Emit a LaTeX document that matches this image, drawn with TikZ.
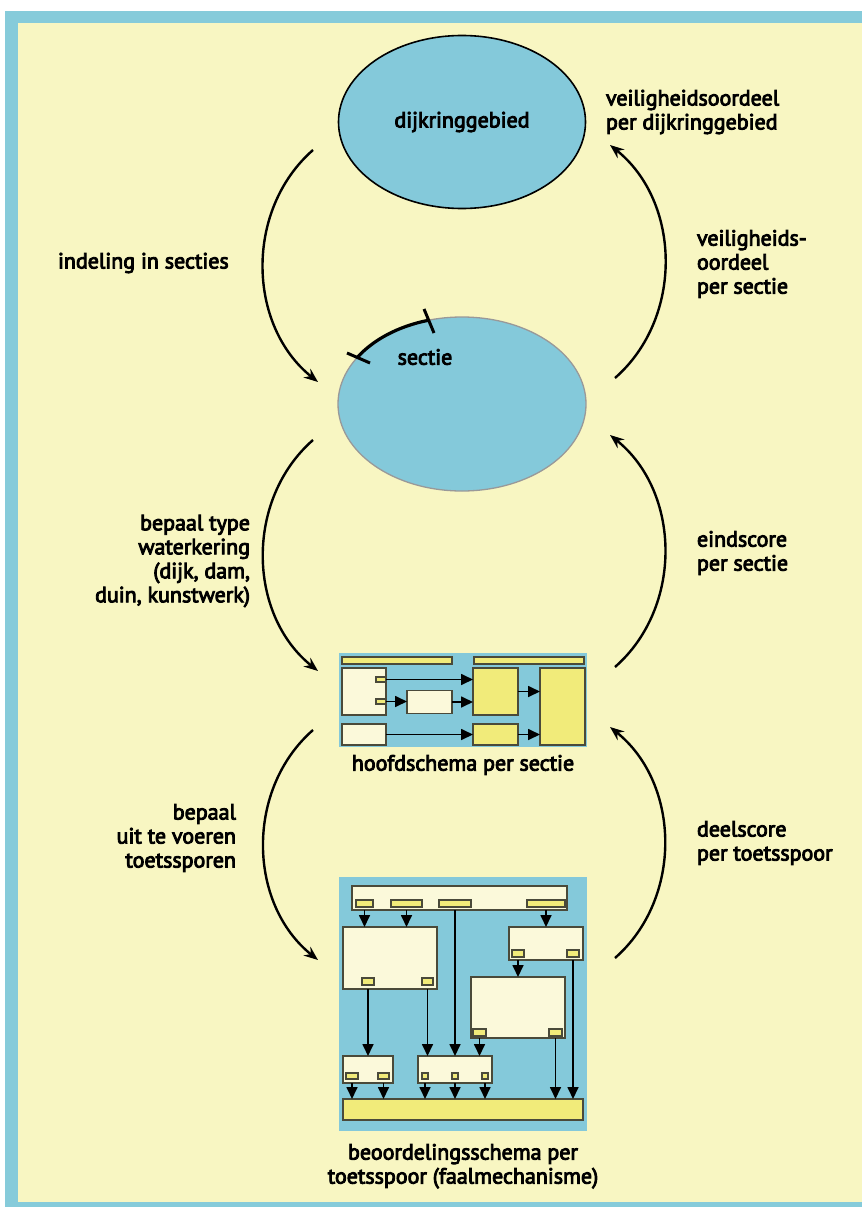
\documentclass[tikz,border=0pt]{standalone}
\usepackage{fontspec}
\setmainfont{PT Sans}
\newfontfamily\dijkfont{PT Sans}[FakeBold=4]
\usepackage{tikz}
\usetikzlibrary{positioning,shapes.geometric,arrows.meta,calc}

\definecolor{frameblue}{HTML}{86CBDA}
\definecolor{paper}{HTML}{F8F6C2}
\definecolor{water}{HTML}{84C9DA}
\definecolor{cream}{HTML}{FBF9DA}
\definecolor{sand}{HTML}{F1EB7A}
\definecolor{rim}{HTML}{4A4A3A}

\begin{document}
\begin{tikzpicture}[x=1pt,y=-1pt,node distance=5pt,every node/.style={outer sep=0pt}]
\tikzset{cyc/.style={-{Stealth[length=14pt,width=11pt]},line width=2.4pt},
  txt/.style={font=\dijkfont\fontsize{22}{24}\selectfont,inner sep=0pt},
  panel/.style={fill=water,inner sep=0pt},
  cbox/.style={draw=rim,fill=cream,line width=1.1pt,inner sep=0pt},
  ybox/.style={draw=rim,fill=sand,line width=1.1pt,inner sep=0pt},
  sarrow/.style={-{Triangle[length=12pt,width=11pt]},line width=1.7pt}}

\useasboundingbox (0,0) rectangle (862,1207);
\fill[white] (0,0) rectangle (862,1207);
\fill[frameblue] (5,11) rectangle (862,1207);
\fill[paper] (18,23) rectangle (862,1202);

% dijkringgebied en sectie
\node(DK) [ellipse,draw=black,line width=1.6pt,fill=water,minimum width=247pt,minimum height=173pt,txt] at (462,122) {dijkringgebied};
\node(SC) [ellipse,draw=black!40,line width=1.3pt,fill=water,minimum width=248pt,minimum height=174pt,inner sep=0pt] at (462,404) {};
\node(SCT) [txt] at (425,357) {sectie};
\draw[line width=3.2pt] ([shift={(-34.2,-83.6)}]SC.center) arc[start angle=-106,end angle=-148,x radius=124,y radius=87];
\draw[line width=3pt] ([shift={(-115,-51)}]SC.center) -- ([shift={(-92,-41)}]SC.center);
\draw[line width=3pt] ([shift={(-38,-95)}]SC.center) -- ([shift={(-28,-71)}]SC.center);

% hoofdschema
\node(HSP) [panel,minimum width=248pt,minimum height=94pt] at (463,700) {};
\node(HSB1) [ybox,minimum width=110pt,minimum height=7pt] at (397,660.5) {};
\node(HSB2) [ybox,minimum width=110pt,minimum height=7pt] at (529,660.5) {};
\node(HSA) [cbox,minimum width=44pt,minimum height=47pt] at (364,691.5) {};
\node(HSA1) [ybox,minimum width=10pt,minimum height=5pt] at (381,679.5) {};
\node(HSA2) [ybox,minimum width=10pt,minimum height=5pt] at (381,701.5) {};
\node(HSB) [cbox,minimum width=45pt,minimum height=23pt] at (429.5,702) {};
\node(HSC) [cbox,minimum width=44pt,minimum height=21pt] at (364,734.5) {};
\node(HSD) [ybox,minimum width=45pt,minimum height=47pt] at (495.5,691.5) {};
\node(HSE) [ybox,minimum width=45pt,minimum height=21pt] at (495.5,734.5) {};
\node(HSF) [ybox,minimum width=45pt,minimum height=77pt] at (562.5,706.5) {};
\draw[sarrow] (HSA1.east) -- (HSA1 -| HSD.west);
\draw[sarrow] (HSA2.east) -- (HSA2 -| HSB.west);
\draw[sarrow] (HSB.east) -- (HSB -| HSD.west);
\draw[sarrow] (HSC.east) -- (HSE.west);
\draw[sarrow] (HSD.east) -- (HSD -| HSF.west);
\draw[sarrow] (HSE.east) -- (HSE -| HSF.west);
\node(HSL) [txt,below=8pt of HSP] {hoofdschema per sectie};

% beoordelingsschema
\node(BSP) [panel,minimum width=248pt,minimum height=254pt] at (463,1004) {};
\node(BT) [cbox,minimum width=215pt,minimum height=24pt] at (459.5,898) {};
\node(BT1) [ybox,minimum width=17pt,minimum height=7pt] at (364.5,903.5) {};
\node(BT2) [ybox,minimum width=31pt,minimum height=7pt] at (406.5,903.5) {};
\node(BT3) [ybox,minimum width=32pt,minimum height=7pt] at (455,903.5) {};
\node(BT4) [ybox,minimum width=38pt,minimum height=7pt] at (546,903.5) {};
\node(BL) [cbox,minimum width=94pt,minimum height=62pt] at (390,958) {};
\node(BL1) [ybox,minimum width=12pt,minimum height=7pt] at (368,981.5) {};
\node(BL2) [ybox,minimum width=11pt,minimum height=7pt] at (427.5,981.5) {};
\node(BR) [cbox,minimum width=74pt,minimum height=33pt] at (546,943.5) {};
\node(BR1) [ybox,minimum width=12pt,minimum height=7pt] at (518,953.5) {};
\node(BR2) [ybox,minimum width=12pt,minimum height=7pt] at (573,953.5) {};
\node(BQ) [cbox,minimum width=94pt,minimum height=61pt] at (518,1007.5) {};
\node(BQ1) [ybox,minimum width=13pt,minimum height=7pt] at (479.5,1032.5) {};
\node(BQ2) [ybox,minimum width=13pt,minimum height=7pt] at (555.5,1032.5) {};
\node(BM) [cbox,minimum width=50pt,minimum height=27pt] at (368,1069.5) {};
\node(BM1) [ybox,minimum width=12pt,minimum height=6pt] at (352,1076) {};
\node(BM2) [ybox,minimum width=11pt,minimum height=6pt] at (383.5,1076) {};
\node(BN) [cbox,minimum width=74pt,minimum height=27pt] at (455,1069.5) {};
\node(BN1) [ybox,minimum width=6pt,minimum height=6pt] at (425,1076) {};
\node(BN2) [ybox,minimum width=6pt,minimum height=6pt] at (455,1076) {};
\node(BN3) [ybox,minimum width=6pt,minimum height=6pt] at (485,1076) {};
\node(BZ) [ybox,minimum width=240pt,minimum height=21pt] at (463,1109.5) {};
\draw[sarrow] (BT1 |- BT.south) -- (BT1 |- BL.north);
\draw[sarrow] (BT2 |- BT.south) -- (BT2 |- BL.north);
\draw[sarrow] (BT4 |- BT.south) -- (BT4 |- BR.north);
\draw[sarrow] (BT3 |- BT.south) -- (BT3 |- BN.north);
\draw[sarrow] (BR1 |- BR.south) -- (BR1 |- BQ.north);
\draw[sarrow] (BR2 |- BR.south) -- (BR2 |- BZ.north);
\draw[sarrow] (BL1 |- BL.south) -- (BL1 |- BM.north);
\draw[sarrow] (BL2 |- BL.south) -- (BL2 |- BN.north);
\draw[sarrow] (BQ1 |- BQ.south) -- (BQ1 |- BN.north);
\draw[sarrow] (BQ2 |- BQ.south) -- (BQ2 |- BZ.north);
\draw[sarrow] (BM1 |- BM.south) -- (BM1 |- BZ.north);
\draw[sarrow] (BM2 |- BM.south) -- (BM2 |- BZ.north);
\draw[sarrow] (BN1 |- BN.south) -- (BN1 |- BZ.north);
\draw[sarrow] (BN2 |- BN.south) -- (BN2 |- BZ.north);
\draw[sarrow] (BN3 |- BN.south) -- (BN3 |- BZ.north);
\node(BSL) [txt,align=center,below=13pt of BSP] {beoordelingsschema per\\toetsspoor (faalmechanisme)};

% kringloop
\coordinate(L1s) at (313,150); \coordinate(L1e) at (318,382);
\coordinate(L2s) at (313,440); \coordinate(L2e) at (318,671);
\coordinate(L3s) at (313,730); \coordinate(L3e) at (318,960);
\coordinate(R1s) at (615,378); \coordinate(R1e) at (610,145);
\coordinate(R2s) at (615,667); \coordinate(R2e) at (610,435);
\coordinate(R3s) at (615,958); \coordinate(R3e) at (610,727);
\draw[cyc] (L1s) to[bend right=50] (L1e);
\draw[cyc] (L2s) to[bend right=50] (L2e);
\draw[cyc] (L3s) to[bend right=50] (L3e);
\draw[cyc] (R1s) to[bend right=50] (R1e);
\draw[cyc] (R2s) to[bend right=50] (R2e);
\draw[cyc] (R3s) to[bend right=50] (R3e);

\node(T1) [txt,align=left,anchor=west] at (606,112) {veiligheidsoordeel\\per dijkringgebied};
\node(T2) [txt,anchor=west] at (58,263) {indeling in secties};
\node(T3) [txt,align=left,anchor=west] at (697,264) {veiligheids-\\oordeel\\per sectie};
\node(T4) [txt,align=right,anchor=east] at (250,561) {bepaal type\\waterkering\\(dijk, dam,\\duin, kunstwerk)};
\node(T5) [txt,align=left,anchor=west] at (697,553) {eindscore\\per sectie};
\node(T6) [txt,align=right,anchor=east] at (236,838) {bepaal\\uit te voeren\\toetssporen};
\node(T7) [txt,align=left,anchor=west] at (697,843) {deelscore\\per toetsspoor};
\end{tikzpicture}
\end{document}
